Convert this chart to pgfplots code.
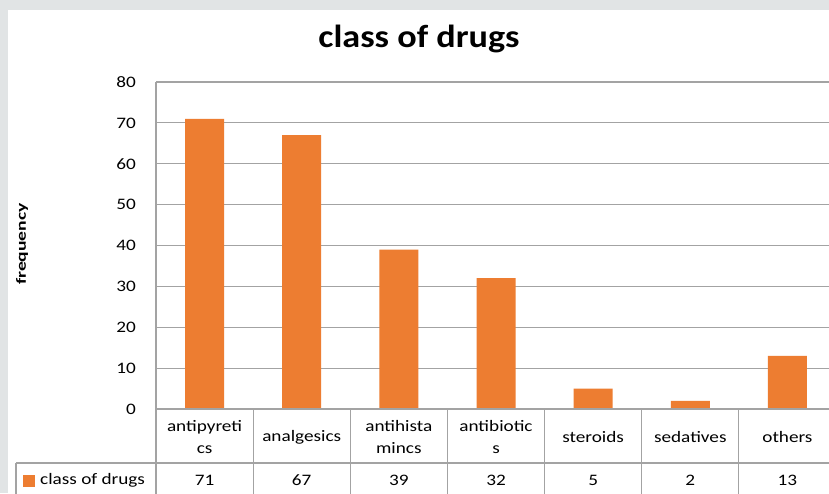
\documentclass[border=0pt]{standalone}
\usepackage{pgfplots}
\pgfplotsset{compat=1.18}
\usepackage{fontspec}
\setmainfont{Carlito}
\definecolor{barc}{HTML}{ED7D31}
\definecolor{gridc}{HTML}{A3A3A3}
\definecolor{bgc}{HTML}{E1E4E5}
\newcommand{\sx}[1]{\scalebox{1.2}[1]{#1}}
\begin{document}
\begin{tikzpicture}[x=1pt,y=1pt]
\fill[bgc] (0,0) rectangle (829,493);
\fill[white] (8,0) rectangle (829,483);
\begin{scope}
\clip (0,0) rectangle (829,493);
\begin{axis}[at={(156pt,84pt)}, anchor=south west, scale only axis,
  width=680pt, height=327pt,
  ybar, bar width=39pt,
  xmin=-0.5, xmax=6.5, ymin=0, ymax=80,
  ytick={0,10,...,80}, xtick=\empty,
  axis lines*=left,
  axis line style={-, draw=gridc, line width=1.2pt},
  ymajorgrids, grid style={draw=gridc, line width=1.2pt},
  major tick length=0pt,
  /pgf/number format/assume math mode=true,
  yticklabel style={font=\fontsize{16}{18}\selectfont, inner sep=0pt, xshift=-20pt},
  yticklabel={\sx{\pgfmathprintnumber{\tick}}},
]
\addplot[fill=barc, draw=none] coordinates {(0,71) (1,67) (2,39) (3,32) (4,5) (5,2) (6,13)};
\end{axis}
% data table
\draw[gridc, line width=1.2pt] (156,84) -- (840,84);
\draw[gridc, line width=1.2pt] (16,30) -- (840,30);
\foreach \k in {0,...,7} {
  \pgfmathsetmacro{\xx}{156+97.143*\k}
  \draw[gridc, line width=1.2pt] (\xx,84) -- (\xx,-5);
}
\draw[gridc, line width=1.2pt] (16,30) -- (16,-5);
\begin{scope}[every node/.style={font=\fontsize{16}{22}\selectfont, align=center, inner sep=0pt}]
\node at ({156+97.143*0.5},56) {\sx{antipyreti}\\\sx{cs}};
\node at ({156+97.143*1.5},56) {\sx{analgesics}};
\node at ({156+97.143*2.5},56) {\sx{antihista}\\\sx{mincs}};
\node at ({156+97.143*3.5},56) {\sx{antibiotic}\\\sx{s}};
\node at ({156+97.143*4.5},56) {\sx{steroids}};
\node at ({156+97.143*5.5},56) {\sx{sedatives}};
\node at ({156+97.143*6.5},56) {\sx{others}};
\node at ({156+97.143*0.5},13) {\sx{71}};
\node at ({156+97.143*1.5},13) {\sx{67}};
\node at ({156+97.143*2.5},13) {\sx{39}};
\node at ({156+97.143*3.5},13) {\sx{32}};
\node at ({156+97.143*4.5},13) {\sx{5}};
\node at ({156+97.143*5.5},13) {\sx{2}};
\node at ({156+97.143*6.5},13) {\sx{13}};
\node[anchor=west] at (40,13) {\sx{class of drugs}};
\end{scope}
\fill[barc] (23,6) rectangle (35,18);
\end{scope}
\node[anchor=base, inner sep=0pt, font=\fontsize{32}{36}\selectfont\bfseries] at (419,445) {\scalebox{1.13}[1]{class of drugs}};
\node[rotate=90, inner sep=0pt, font=\fontsize{14}{16}\selectfont\bfseries] at (22,249) {\scalebox{1.4}[1]{frequency}};
\pgfresetboundingbox
\path[use as bounding box] (0,0) rectangle (829,493);
\end{tikzpicture}
\end{document}
